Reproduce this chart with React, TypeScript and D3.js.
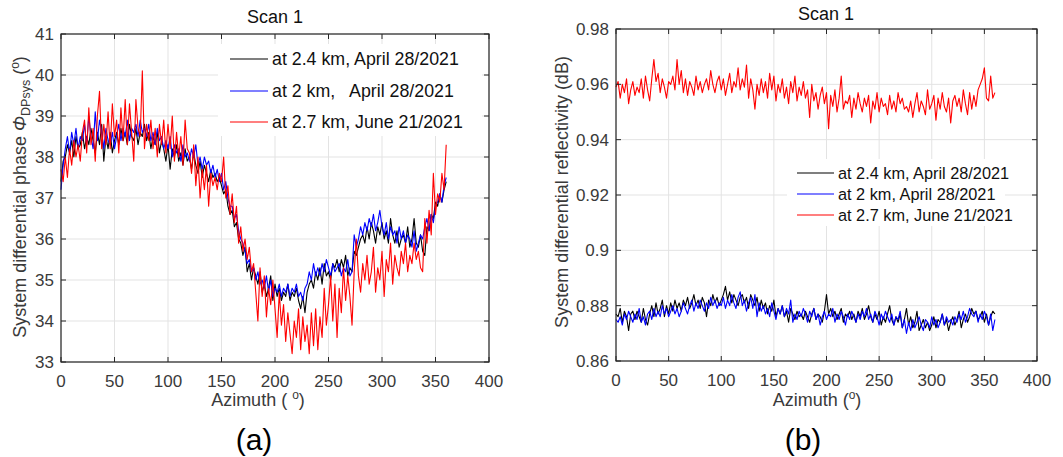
import React from "react";
import * as d3 from "d3";

// azimuth sampling (degrees), 2-degree step, 0..360
const azimuth: number[] = d3.range(0, 361, 2);

// ---- Panel (a): system differential phase (deg) ----
const phiBlack: number[] = [
  37.4, 37.9, 38.0, 38.3, 38.1, 38.4, 38.0, 38.5, 38.2, 38.3,
  38.6, 38.2, 38.5, 38.3, 38.7, 38.4, 38.1, 38.6, 38.3, 38.8,
  37.9, 38.5, 38.2, 38.6, 38.1, 38.4, 38.6, 38.3, 38.7, 38.4,
  38.6, 38.3, 38.8, 38.5, 38.4, 38.7, 38.3, 38.6, 38.5, 38.8,
  38.4, 38.6, 38.2, 38.5, 38.3, 38.6, 38.1, 38.4, 38.2, 37.9,
  38.3, 37.7, 38.2, 38.0, 38.3, 37.9, 38.1, 37.8, 38.2, 37.9,
  38.0, 37.7, 38.1, 37.8, 37.6, 37.9, 37.5, 37.8, 37.6, 37.4,
  37.7, 37.5, 37.6, 37.4, 37.5, 37.3, 37.1, 37.2, 36.8, 36.6,
  36.7, 36.3, 36.4, 36.0, 35.9, 35.6, 35.8, 35.2, 35.4, 35.0,
  35.3, 35.1, 34.9, 35.2, 34.7, 34.9, 34.6, 34.8, 35.1, 34.5,
  34.9, 34.6, 34.8, 34.5, 34.7, 34.6, 34.9, 34.5, 34.7, 34.6,
  34.8, 34.5, 34.3, 34.6, 34.2, 34.7, 34.9, 35.0, 34.8, 35.2,
  35.0, 35.3, 34.9, 35.4, 35.1, 35.2, 35.0, 35.4, 35.3, 35.5,
  35.2, 35.5, 35.3, 35.6, 35.1, 35.3, 35.2, 35.7, 35.6, 35.8,
  36.0, 36.1, 35.9, 36.3, 36.0, 36.4, 36.2, 35.9, 36.3, 36.1,
  36.4, 36.0, 36.2, 35.9, 36.5, 36.1, 35.9, 36.2, 35.8, 36.0,
  36.1, 35.9, 36.3, 35.8, 36.0, 36.5, 35.9, 35.8, 36.1, 35.7,
  35.6, 36.3, 36.2, 36.6, 36.5, 36.9, 36.8, 37.1, 36.9, 37.2,
  37.4,
];
const phiBlue: number[] = [
  37.2, 37.8, 38.2, 38.5, 38.1, 38.6, 38.3, 38.7, 38.2, 38.5,
  38.4, 38.8, 38.3, 39.0, 38.5, 38.2, 39.1, 38.4, 38.9, 38.6,
  38.2, 38.7, 38.4, 38.3, 38.6, 38.2, 38.5, 38.8, 38.4, 38.7,
  38.5, 38.9, 38.4, 38.7, 38.6, 38.8, 38.5, 38.9, 38.6, 38.7,
  38.5, 38.8, 38.4, 38.6, 38.3, 38.7, 38.4, 38.5, 38.2, 38.4,
  38.2, 38.5, 38.0, 38.3, 38.1, 38.2, 37.9, 38.3, 38.0, 38.1,
  37.9, 38.2, 38.0, 38.3, 37.8, 38.0, 37.7, 38.0, 37.8, 37.9,
  37.6, 37.8, 37.5, 37.7, 37.4, 37.6, 37.2, 37.4, 37.0, 36.8,
  36.8, 36.5, 36.6, 36.2, 36.0, 35.9, 35.7, 35.4, 35.5, 35.2,
  35.3, 35.0, 35.2, 34.9, 35.0, 34.8, 35.1, 34.7, 35.0, 34.6,
  34.8, 34.7, 34.9, 34.6, 34.8, 34.7, 34.9, 34.6, 34.8, 34.7,
  34.9, 34.6, 34.7, 34.5, 34.8, 34.9, 35.2, 35.0, 35.4, 35.1,
  35.3, 35.1, 35.4, 35.2, 35.5, 35.3, 35.1, 35.4, 35.2, 35.3,
  35.4, 35.1, 35.3, 35.2, 35.5, 35.1, 35.2, 36.1, 35.8, 36.0,
  36.3, 36.1, 36.4, 36.2, 36.5, 36.3, 36.6, 36.2, 36.4, 36.7,
  36.3, 36.1, 36.4, 36.0, 36.3, 36.1, 36.2, 35.9, 36.3, 36.0,
  36.2, 35.9, 36.1, 36.0, 35.8, 36.2, 35.7, 35.9, 36.1, 36.0,
  36.3, 36.5, 36.2, 36.6, 36.4, 36.8, 36.9, 37.1, 36.9, 37.3,
  37.5,
];
const phiRed: number[] = [
  37.7, 37.4, 38.0, 37.5, 38.2, 37.8, 38.4, 38.0, 38.3, 37.9,
  38.6, 38.9, 38.1, 39.2, 38.3, 38.7, 37.9, 39.0, 39.6, 38.2,
  38.8, 38.3, 39.1, 38.2, 39.3, 38.5, 38.9, 38.1, 39.2, 38.4,
  39.4, 38.3, 39.3, 38.6, 37.9, 39.4, 38.7, 38.5, 40.1, 38.2,
  38.8, 38.4, 38.9, 38.2, 38.7, 38.0, 38.8, 38.3, 38.9, 38.1,
  38.8, 38.2, 39.0, 37.9, 38.6, 38.0, 38.5, 37.8, 38.9, 38.2,
  38.1, 37.6, 38.3, 37.3, 38.0, 37.0, 37.7, 37.2, 37.8, 36.8,
  37.6, 37.3, 37.5, 37.2, 37.6, 37.4, 38.0, 37.0, 37.3, 36.6,
  37.1, 36.4, 36.8, 35.9, 36.3, 35.7, 36.0, 35.5, 35.8, 35.2,
  35.4, 34.7, 34.0, 35.3, 34.6, 35.1, 34.1, 34.8, 34.4, 35.0,
  34.3, 33.6, 34.7, 33.9, 34.4, 33.5, 34.2, 33.7, 33.2, 34.0,
  33.6, 34.3, 33.3, 34.1, 33.5, 33.9, 33.2, 34.2, 33.4, 34.3,
  33.3, 34.1, 33.6, 34.8, 33.9, 34.4, 35.1, 34.0, 34.9, 33.6,
  34.8, 34.2, 35.3, 34.5, 35.1, 34.6, 33.9, 35.2, 36.0, 35.1,
  34.7, 35.4, 35.0, 35.6, 34.9, 35.2, 35.8, 34.7, 35.3, 35.0,
  35.7, 34.6, 35.5, 35.2, 35.9, 34.9, 35.6, 35.3, 35.1, 35.7,
  35.4, 35.9, 35.2, 35.6, 35.4, 35.9, 35.5, 35.7, 35.3, 35.2,
  36.5, 35.9, 36.7, 36.1, 37.6, 36.6, 37.1, 36.9, 37.6, 37.2,
  38.3,
];

// ---- Panel (b): system differential reflectivity (dB) ----
const zdrBlack: number[] = [
  0.877, 0.876, 0.879, 0.874, 0.878, 0.876, 0.871, 0.877, 0.878, 0.875,
  0.878, 0.876, 0.874, 0.879, 0.875, 0.873, 0.877, 0.880, 0.876, 0.881,
  0.877, 0.879, 0.882, 0.876, 0.880, 0.877, 0.881, 0.878, 0.882, 0.879,
  0.881, 0.878, 0.882, 0.880, 0.883, 0.879, 0.881, 0.884, 0.880, 0.882,
  0.879, 0.883, 0.881, 0.876, 0.882, 0.880, 0.884, 0.881, 0.883, 0.880,
  0.882, 0.884, 0.887, 0.882, 0.885, 0.881, 0.884, 0.882, 0.880, 0.883,
  0.884, 0.881, 0.883, 0.879, 0.884, 0.882, 0.880, 0.883, 0.878, 0.882,
  0.879, 0.881, 0.877, 0.880, 0.878, 0.882, 0.876, 0.879, 0.877, 0.880,
  0.876, 0.878, 0.874, 0.879, 0.877, 0.875, 0.878, 0.876, 0.877, 0.875,
  0.878, 0.876, 0.874, 0.877, 0.879, 0.875, 0.877, 0.876, 0.874, 0.878,
  0.884, 0.877, 0.879, 0.876, 0.878, 0.875, 0.877, 0.879, 0.874, 0.877,
  0.876, 0.878, 0.875, 0.877, 0.874, 0.878, 0.876, 0.879, 0.875, 0.877,
  0.880, 0.876, 0.874, 0.877, 0.875, 0.878, 0.873, 0.876, 0.874, 0.877,
  0.880, 0.875, 0.873, 0.876, 0.874, 0.877, 0.872, 0.875, 0.879, 0.873,
  0.876, 0.872, 0.874, 0.878, 0.871, 0.873, 0.875, 0.872, 0.874, 0.871,
  0.873, 0.876, 0.872, 0.875, 0.874, 0.877, 0.873, 0.875, 0.871, 0.874,
  0.876, 0.873, 0.875, 0.878, 0.872, 0.875, 0.877, 0.874, 0.876, 0.879,
  0.877, 0.878, 0.875, 0.876, 0.878, 0.874, 0.877, 0.873, 0.876, 0.878,
  0.877,
];
const zdrBlue: number[] = [
  0.875, 0.874, 0.876, 0.873, 0.877, 0.875, 0.878, 0.876, 0.874, 0.877,
  0.875, 0.879, 0.874, 0.876, 0.873, 0.877, 0.878, 0.875, 0.879, 0.876,
  0.878, 0.876, 0.880, 0.877, 0.879, 0.876, 0.878, 0.880, 0.877, 0.879,
  0.876, 0.878, 0.881, 0.879, 0.877, 0.880, 0.882, 0.878, 0.881, 0.879,
  0.882, 0.880, 0.878, 0.881, 0.879, 0.883, 0.880, 0.882, 0.879, 0.881,
  0.880, 0.883, 0.879, 0.882, 0.880, 0.884, 0.881, 0.879, 0.883, 0.885,
  0.880, 0.882, 0.878, 0.881, 0.883, 0.879, 0.884, 0.876, 0.881, 0.878,
  0.880, 0.877, 0.879, 0.876, 0.881, 0.878, 0.875, 0.879, 0.877, 0.880,
  0.876, 0.879, 0.877, 0.882, 0.874, 0.877, 0.875, 0.878, 0.876, 0.879,
  0.877, 0.874, 0.878, 0.876, 0.879, 0.875, 0.877, 0.873, 0.876, 0.878,
  0.875, 0.877, 0.876, 0.879, 0.874, 0.877, 0.875, 0.878, 0.876, 0.873,
  0.877, 0.875, 0.878, 0.876, 0.874, 0.877, 0.875, 0.878, 0.876, 0.879,
  0.875, 0.877, 0.874, 0.878, 0.876, 0.873, 0.877, 0.875, 0.878, 0.876,
  0.874, 0.877, 0.873, 0.876, 0.875, 0.878, 0.872, 0.875, 0.870, 0.874,
  0.871, 0.875, 0.872, 0.874, 0.876, 0.873, 0.871, 0.875, 0.874, 0.872,
  0.876, 0.873, 0.875, 0.872, 0.874, 0.877, 0.873, 0.876, 0.874, 0.875,
  0.873, 0.876, 0.874, 0.877, 0.875, 0.878, 0.874, 0.876, 0.879, 0.877,
  0.876, 0.878, 0.874, 0.877, 0.875, 0.878, 0.876, 0.873, 0.877, 0.871,
  0.875,
];
const zdrRed: number[] = [
  0.959, 0.961, 0.955, 0.960, 0.957, 0.962, 0.953, 0.958, 0.961, 0.956,
  0.959, 0.957, 0.962, 0.955, 0.963, 0.958, 0.954, 0.962, 0.969, 0.961,
  0.964, 0.957, 0.962, 0.959, 0.955, 0.961, 0.960, 0.963, 0.958, 0.969,
  0.960, 0.965, 0.957, 0.962, 0.956, 0.961, 0.959, 0.956, 0.963, 0.958,
  0.961, 0.957, 0.960, 0.962, 0.958, 0.965, 0.960, 0.957, 0.961, 0.963,
  0.958, 0.962, 0.956, 0.960, 0.964, 0.957, 0.961, 0.959, 0.966, 0.958,
  0.962, 0.959, 0.967, 0.955, 0.962, 0.958, 0.951, 0.960, 0.956, 0.962,
  0.957, 0.961, 0.955, 0.964, 0.958, 0.963, 0.954, 0.960, 0.957, 0.962,
  0.955, 0.959, 0.953, 0.961, 0.957, 0.963, 0.954, 0.959, 0.956, 0.961,
  0.955, 0.958, 0.948, 0.960, 0.954, 0.957, 0.951, 0.956, 0.959, 0.953,
  0.957, 0.944, 0.956, 0.952, 0.958, 0.950, 0.955, 0.963, 0.951, 0.954,
  0.953, 0.956, 0.948, 0.955, 0.951, 0.957, 0.953, 0.950, 0.955, 0.952,
  0.956, 0.946, 0.954, 0.951, 0.957, 0.950, 0.955, 0.952, 0.953, 0.949,
  0.956, 0.951, 0.954, 0.950, 0.957, 0.953, 0.955, 0.951, 0.952, 0.950,
  0.954, 0.948, 0.953, 0.957, 0.950, 0.954, 0.952, 0.949, 0.958, 0.951,
  0.953, 0.956, 0.947, 0.955, 0.951, 0.957, 0.952, 0.950, 0.955, 0.946,
  0.954, 0.956, 0.952, 0.955, 0.950, 0.958, 0.953, 0.949, 0.957, 0.951,
  0.956, 0.952, 0.958, 0.960, 0.962, 0.966, 0.955, 0.954, 0.963, 0.955,
  0.957,
];

const xTicks: number[] = [0, 50, 100, 150, 200, 250, 300, 350, 400];
const phiTicks: number[] = [33, 34, 35, 36, 37, 38, 39, 40, 41];
const zdrTicks: number[] = [0.86, 0.88, 0.9, 0.92, 0.94, 0.96, 0.98];

const legendLabels: string[] = [
  "at 2.4 km, April 28/2021",
  "at 2 km,   April 28/2021",
  "at 2.7 km, June 21/2021",
];
const legendLabelsB: string[] = [
  "at 2.4 km, April 28/2021",
  "at 2 km, April 28/2021",
  "at 2.7 km, June 21/2021",
];
const seriesColors: string[] = ["#000000", "#0000ff", "#ff0000"];

const FONT = "'Liberation Sans', Arial, Helvetica, sans-serif";
const TICK_COLOR = "#3a3a3a";
const TICK_FONT = 17;
const LABEL_FONT = 18;

type PanelProps = {
  left: number;
  right: number;
  top: number;
  bottom: number;
  yDomain: [number, number];
  yTicks: number[];
  yFmt: (v: number) => string;
  series: number[][];
  legend: string[];
  legendBox: { x: number; y: number; w: number; h: number };
  legendLine: [number, number];
  legendText: number;
  legendRows: number[];
  legendFont: number;
};

function Panel(p: PanelProps) {
  const x = d3.scaleLinear().domain([0, 400]).range([p.left, p.right]);
  const y = d3.scaleLinear().domain(p.yDomain).range([p.bottom, p.top]);
  const line = d3
    .line<number>()
    .x((_, i) => x(azimuth[i]))
    .y((d) => y(d));
  const tl = 5;
  return (
    <g>
      {xTicks.map((t) => (
        <line key={"gx" + t} x1={x(t)} x2={x(t)} y1={p.top} y2={p.bottom} stroke="#e3e3e3" strokeWidth={1} />
      ))}
      {p.yTicks.map((t) => (
        <line key={"gy" + t} x1={p.left} x2={p.right} y1={y(t)} y2={y(t)} stroke="#e3e3e3" strokeWidth={1} />
      ))}
      <rect x={p.legendBox.x} y={p.legendBox.y} width={p.legendBox.w} height={p.legendBox.h} fill="#fff" />
      {p.series.map((s, i) => (
        <path key={"s" + i} d={line(s) || ""} fill="none" stroke={seriesColors[i]} strokeWidth={1.1} strokeLinejoin="round" />
      ))}
      <rect x={p.left} y={p.top} width={p.right - p.left} height={p.bottom - p.top} fill="none" stroke="#262626" strokeWidth={1.2} />
      {xTicks.map((t) => (
        <g key={"tx" + t}>
          <line x1={x(t)} x2={x(t)} y1={p.bottom} y2={p.bottom - tl} stroke="#262626" />
          <line x1={x(t)} x2={x(t)} y1={p.top} y2={p.top + tl} stroke="#262626" />
          <text x={x(t)} y={p.bottom + 25} textAnchor="middle" fontSize={TICK_FONT} fill={TICK_COLOR} fontFamily={FONT}>
            {t}
          </text>
        </g>
      ))}
      {p.yTicks.map((t) => (
        <g key={"ty" + t}>
          <line x1={p.left} x2={p.left + tl} y1={y(t)} y2={y(t)} stroke="#262626" />
          <line x1={p.right} x2={p.right - tl} y1={y(t)} y2={y(t)} stroke="#262626" />
          <text x={p.left - 7} y={y(t) + 6} textAnchor="end" fontSize={TICK_FONT} fill={TICK_COLOR} fontFamily={FONT}>
            {p.yFmt(t)}
          </text>
        </g>
      ))}
      {p.legend.map((lab, i) => (
        <g key={"lg" + i}>
          <line x1={p.legendLine[0]} x2={p.legendLine[1]} y1={p.legendRows[i]} y2={p.legendRows[i]} stroke={seriesColors[i]} strokeWidth={1.2} />
          <text x={p.legendText} y={p.legendRows[i] + p.legendFont * 0.36} fontSize={p.legendFont} fill="#111" fontFamily={FONT} style={{ whiteSpace: "pre" }}>
            {lab}
          </text>
        </g>
      ))}
    </g>
  );
}

export default function App() {
  return (
    <svg width={1063} height={457} style={{ position: "absolute", left: 0, top: 0, background: "#fff" }} fontFamily={FONT}>
      <rect x={0} y={0} width={1063} height={457} fill="#fff" />
      <Panel
        left={61}
        right={489}
        top={34}
        bottom={362}
        yDomain={[33, 41]}
        yTicks={phiTicks}
        yFmt={(v) => String(v)}
        series={[phiBlack, phiBlue, phiRed]}
        legend={legendLabels}
        legendBox={{ x: 218, y: 44, w: 264, h: 92 }}
        legendLine={[230, 268]}
        legendText={272}
        legendRows={[59, 91, 122]}
        legendFont={17.8}
      />
      <text x={275} y={23} textAnchor="middle" fontSize={LABEL_FONT} fill="#111">Scan 1</text>
      <text x={258} y={406} textAnchor="middle" fontSize={LABEL_FONT} fill={TICK_COLOR}>
        Azimuth ({"  "}
        <tspan baselineShift="super" fontSize={12}>o</tspan>
        <tspan>)</tspan>
      </text>
      <text transform="translate(26,197) rotate(-90)" textAnchor="middle" fontSize={LABEL_FONT} fill={TICK_COLOR}>
        System differential phase{" "}
        <tspan fontStyle="italic">Φ</tspan>
        <tspan baselineShift={-4} fontSize={12.5}>DPsys</tspan>
        <tspan>{" "}(</tspan>
        <tspan baselineShift={7} fontSize={12}>o</tspan>
        <tspan>)</tspan>
      </text>
      <text x={254} y={450} textAnchor="middle" fontSize={30} fill="#000">(a)</text>

      <Panel
        left={616}
        right={1037}
        top={29}
        bottom={361}
        yDomain={[0.86, 0.98]}
        yTicks={zdrTicks}
        yFmt={(v) => (v === 0.9 ? "0.9" : v.toFixed(2))}
        series={[zdrBlack, zdrBlue, zdrRed]}
        legend={legendLabelsB}
        legendBox={{ x: 787, y: 159, w: 218, h: 67 }}
        legendLine={[797, 834]}
        legendText={838}
        legendRows={[173, 194, 215]}
        legendFont={16.3}
      />
      <text x={826} y={20} textAnchor="middle" fontSize={LABEL_FONT} fill="#111">Scan 1</text>
      <text x={817} y={406} textAnchor="middle" fontSize={LABEL_FONT} fill={TICK_COLOR}>
        Azimuth (
        <tspan baselineShift="super" fontSize={12}>o</tspan>
        <tspan>)</tspan>
      </text>
      <text transform="translate(568,192) rotate(-90)" textAnchor="middle" fontSize={LABEL_FONT} fill={TICK_COLOR}>
        System differential reflectivity (dB)
      </text>
      <text x={803} y={450} textAnchor="middle" fontSize={30} fill="#000">(b)</text>
    </svg>
  );
}
